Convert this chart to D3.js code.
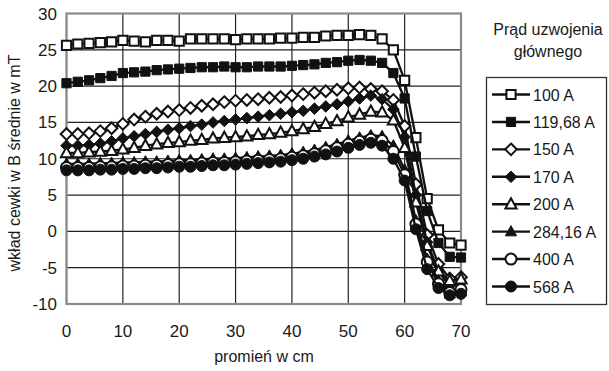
<!DOCTYPE html>
<html>
<head>
<meta charset="utf-8">
<script src="https://cdn.jsdelivr.net/npm/d3@7"></script>
<style>
  body { margin: 0; background: #fff; }
  text { font-family: "Liberation Sans", Arial, sans-serif; fill: #1a1a1a; }
</style>
</head>
<body>
<svg id="chart" width="609" height="371"></svg>
<script>
// promień w cm, every 2 cm
var radius = d3.range(0, 71, 2);

var seriesNames = ['100 A', '119,68 A', '150 A', '170 A', '200 A', '284,16 A', '400 A', '568 A'];

var a100 = [25.6,25.8,25.9,26.0,26.1,26.3,26.2,26.1,26.3,26.3,26.2,26.5,26.5,26.5,26.5,26.4,26.5,26.5,
            26.5,26.6,26.6,26.7,26.7,26.9,27.0,27.0,27.1,27.0,26.5,25.0,20.8,12.9,4.5,0.2,-1.6,-1.9];
var a119 = [20.4,20.6,20.8,21.1,21.4,21.8,21.9,22.0,22.2,22.3,22.4,22.5,22.6,22.6,22.7,22.6,22.6,22.7,
            22.7,22.7,22.8,22.9,23.0,23.2,23.3,23.5,23.6,23.5,23.2,21.8,18.3,10.3,2.8,-1.6,-3.5,-3.6];
var a150 = [13.4,13.4,13.5,13.8,14.2,14.8,15.4,15.8,16.2,16.5,16.7,17.0,17.3,17.5,17.8,18.0,18.1,18.2,
            18.4,18.5,18.7,18.9,19.1,19.3,19.5,19.7,19.8,19.6,19.3,18.1,14.5,6.5,-0.5,-4.5,-6.5,-6.3];
var a170 = [11.8,11.8,11.9,12.1,12.4,12.8,13.1,13.4,13.7,14.0,14.2,14.5,14.7,15.0,15.2,15.4,15.6,15.8,
            16.0,16.2,16.4,16.6,16.9,17.2,17.5,17.9,18.3,18.7,18.2,16.8,13.0,5.0,-1.5,-5.5,-7.5,-7.0];
var a200 = [10.8,10.8,10.9,11.0,11.1,11.3,11.5,11.8,12.0,12.2,12.3,12.5,12.6,12.8,12.9,13.0,13.1,13.3,
            13.4,13.6,13.8,14.1,14.4,14.8,15.2,15.7,16.1,16.5,16.4,15.3,11.5,4.0,-2.0,-5.5,-6.8,-6.6];
var a284 = [9.3,9.3,9.3,9.4,9.4,9.5,9.5,9.6,9.6,9.7,9.8,9.8,9.9,10.0,10.0,10.1,10.2,10.3,
            10.4,10.5,10.7,10.9,11.2,11.6,12.0,12.5,12.9,13.2,13.1,11.8,8.5,1.5,-3.8,-6.8,-8.6,-8.3];
var a400 = [8.8,8.8,8.8,8.9,8.9,9.0,9.0,9.1,9.1,9.2,9.3,9.3,9.4,9.5,9.5,9.6,9.7,9.8,
            9.9,10.0,10.2,10.4,10.7,11.1,11.5,12.0,12.4,12.7,12.5,11.0,7.8,1.0,-4.2,-7.2,-8.4,-8.0];
var a568 = [8.4,8.4,8.4,8.5,8.5,8.6,8.6,8.7,8.7,8.8,8.9,8.9,9.0,9.1,9.1,9.2,9.3,9.4,
            9.5,9.6,9.8,10.0,10.3,10.6,11.0,11.5,11.9,12.2,11.8,10.0,7.0,0.3,-5.2,-7.8,-8.8,-8.6];

var xTicks = [0, 10, 20, 30, 40, 50, 60, 70];
var yTicks = [-10, -5, 0, 5, 10, 15, 20, 25, 30];

var allSeries = [a100, a119, a150, a170, a200, a284, a400, a568];
var markerShapes = ['square', 'square', 'diamond', 'diamond', 'triangle', 'triangle', 'circle', 'circle'];
var markerFilled = [false, true, false, true, false, true, false, true];

var svg = d3.select('#chart');
var plot = {left: 66.5, right: 461, top: 13.5, bottom: 304};

var x = d3.scaleLinear().domain([0, 70]).range([plot.left, plot.right]);
var y = d3.scaleLinear().domain([-10, 30]).range([plot.bottom, plot.top]);

// grid
svg.append('g').selectAll('line.gx')
    .data(xTicks)
  .enter().append('line')
    .attr('x1', function(d) { return x(d); })
    .attr('x2', function(d) { return x(d); })
    .attr('y1', plot.top).attr('y2', plot.bottom)
    .attr('stroke', '#222').attr('stroke-width', 1.2);
svg.append('g').selectAll('line.gy')
    .data(yTicks)
  .enter().append('line')
    .attr('x1', plot.left).attr('x2', plot.right)
    .attr('y1', function(d) { return y(d); })
    .attr('y2', function(d) { return y(d); })
    .attr('stroke', '#222').attr('stroke-width', 1.2);

// frame
svg.append('rect')
    .attr('x', plot.left).attr('y', plot.top)
    .attr('width', plot.right - plot.left).attr('height', plot.bottom - plot.top)
    .attr('fill', 'none').attr('stroke', '#8a8a8a').attr('stroke-width', 2.2);

// tick labels
svg.append('g').selectAll('text')
    .data(yTicks)
  .enter().append('text')
    .attr('x', 57).attr('y', function(d) { return y(d) + 6; })
    .attr('text-anchor', 'end').attr('font-size', 17)
    .text(function(d) { return d; });
svg.append('g').selectAll('text')
    .data(xTicks)
  .enter().append('text')
    .attr('x', function(d) { return x(d); }).attr('y', 337)
    .attr('text-anchor', 'middle').attr('font-size', 17)
    .text(function(d) { return d; });

// axis titles
svg.append('text')
    .attr('x', 264).attr('y', 362)
    .attr('text-anchor', 'middle').attr('font-size', 16)
    .text('promień w cm');
svg.append('text')
    .attr('transform', 'translate(20,163) rotate(-90)')
    .attr('text-anchor', 'middle').attr('font-size', 16)
    .text('wkład cewki w B średnie w mT');

function markerPath(shape) {
    if (shape === 'square') return 'M-4.6,-4.6H4.6V4.6H-4.6Z';
    if (shape === 'diamond') return 'M0,-5.8L5.8,0L0,5.8L-5.8,0Z';
    if (shape === 'triangle') return 'M0,-6L5.6,4.2H-5.6Z';
    return d3.symbol(d3.symbolCircle, 95)();
}

function drawMarker(g, shape, filled) {
    g.append('path')
        .attr('d', markerPath(shape))
        .attr('fill', filled ? '#111' : '#fff')
        .attr('stroke', '#111')
        .attr('stroke-width', filled ? 1 : 2);
}

var line = d3.line()
    .x(function(d, i) { return x(radius[i]); })
    .y(function(d) { return y(d); });

allSeries.forEach(function(values, s) {
    var g = svg.append('g');
    g.append('path')
        .datum(values)
        .attr('d', line)
        .attr('fill', 'none')
        .attr('stroke', '#111')
        .attr('stroke-width', 2.3);
    values.forEach(function(v, i) {
        var m = g.append('g').attr('transform', 'translate(' + x(radius[i]) + ',' + y(v) + ')');
        drawMarker(m, markerShapes[s], markerFilled[s]);
    });
});

// legend
svg.append('text').attr('x', 548).attr('y', 35)
    .attr('text-anchor', 'middle').attr('font-size', 16).text('Prąd uzwojenia');
svg.append('text').attr('x', 548).attr('y', 57)
    .attr('text-anchor', 'middle').attr('font-size', 16).text('głównego');

svg.append('rect')
    .attr('x', 486.5).attr('y', 77.5).attr('width', 120).attr('height', 227)
    .attr('fill', 'none').attr('stroke', '#333').attr('stroke-width', 1.3);

var legendY = d3.scalePoint().domain(seriesNames).range([94.5, 286.5]);

seriesNames.forEach(function(name, s) {
    var ly = legendY(name);
    svg.append('line')
        .attr('x1', 492).attr('x2', 530).attr('y1', ly).attr('y2', ly)
        .attr('stroke', '#111').attr('stroke-width', 2.4);
    var m = svg.append('g').attr('transform', 'translate(511,' + ly + ')');
    drawMarker(m, markerShapes[s], markerFilled[s]);
    svg.append('text')
        .attr('x', 533).attr('y', ly + 6)
        .attr('font-size', 16)
        .text(name);
});
</script>
</body>
</html>
